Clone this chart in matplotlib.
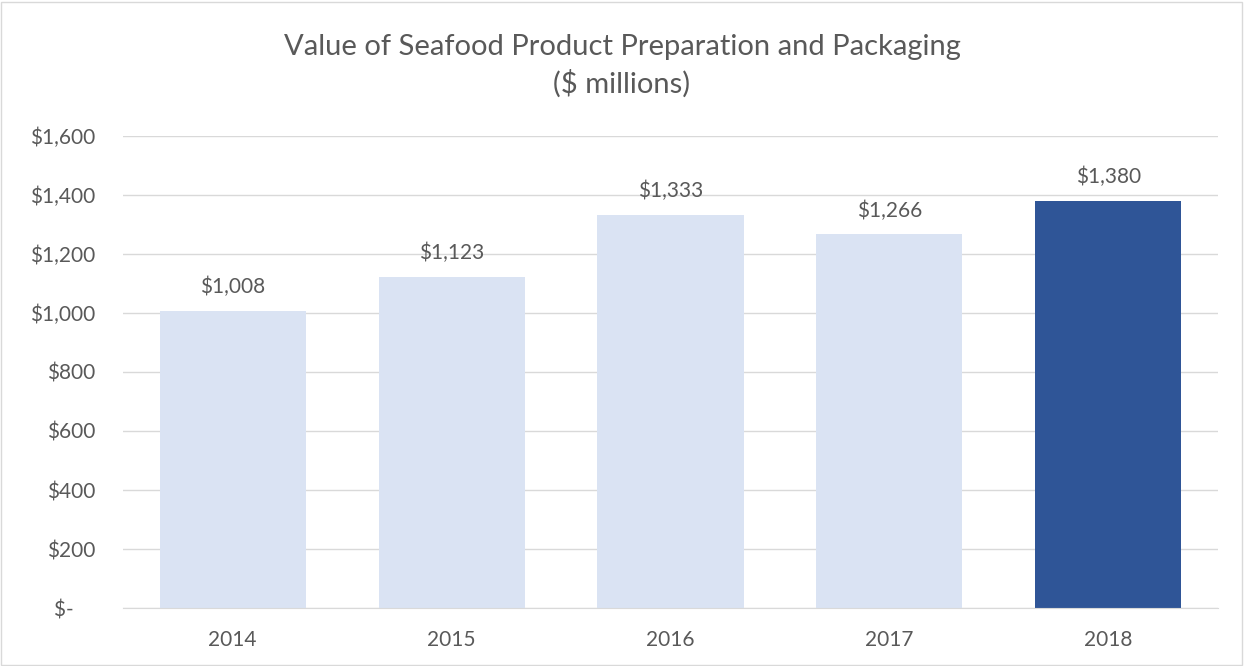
import matplotlib.pyplot as plt
from matplotlib.patches import Rectangle

plt.rcParams['font.family'] = ['Lato', 'DejaVu Sans']

years = ["2014", "2015", "2016", "2017", "2018"]
values = [1008, 1123, 1333, 1266, 1380]
labels = ["$1,008", "$1,123", "$1,333", "$1,266", "$1,380"]
yticks = [0, 200, 400, 600, 800, 1000, 1200, 1400, 1600]
ytick_labels = ["$-    ", "$200", "$400", "$600", "$800", "$1,000", "$1,200", "$1,400", "$1,600"]

light = "#DAE3F3"
dark = "#2F5597"
grey = "#595959"

fig = plt.figure(figsize=(12.44, 6.66), dpi=100)
ax = fig.add_axes([0.099, 0.087, 0.880, 0.709])

colors = [light] * 4 + [dark]
x = range(len(years))
ax.bar(x, values, width=0.667, color=colors, zorder=2)

for i, v in enumerate(values):
    ax.text(i, v + 45, labels[i], ha='center', va='bottom', fontsize=15, color=grey)

ax.set_ylim(0, 1600)
ax.set_xlim(-0.5, 4.5)
ax.set_yticks(yticks)
ax.set_yticklabels(ytick_labels)
ax.set_xticks(list(x))
ax.set_xticklabels(years)
ax.tick_params(axis='both', length=0, labelsize=15, colors=grey)
ax.tick_params(axis='y', pad=20)
ax.tick_params(axis='x', pad=16)

ax.grid(axis='y', color='#D9D9D9', linewidth=1, zorder=0)
for s in ['top', 'right', 'left']:
    ax.spines[s].set_visible(False)
ax.spines['bottom'].set_color('#D9D9D9')

fig.text(0.5, 0.929, "Value of Seafood Product Preparation and Packaging", ha='center',
         va='center', fontsize=21, color=grey)
fig.text(0.5, 0.874, "($ millions)", ha='center', va='center', fontsize=21, color=grey)

fig.patches.append(Rectangle((0.001, 0.002), 0.997, 0.995, transform=fig.transFigure,
                             fill=False, edgecolor='#D9D9D9', linewidth=1))

fig.savefig("out.png", dpi=100)
